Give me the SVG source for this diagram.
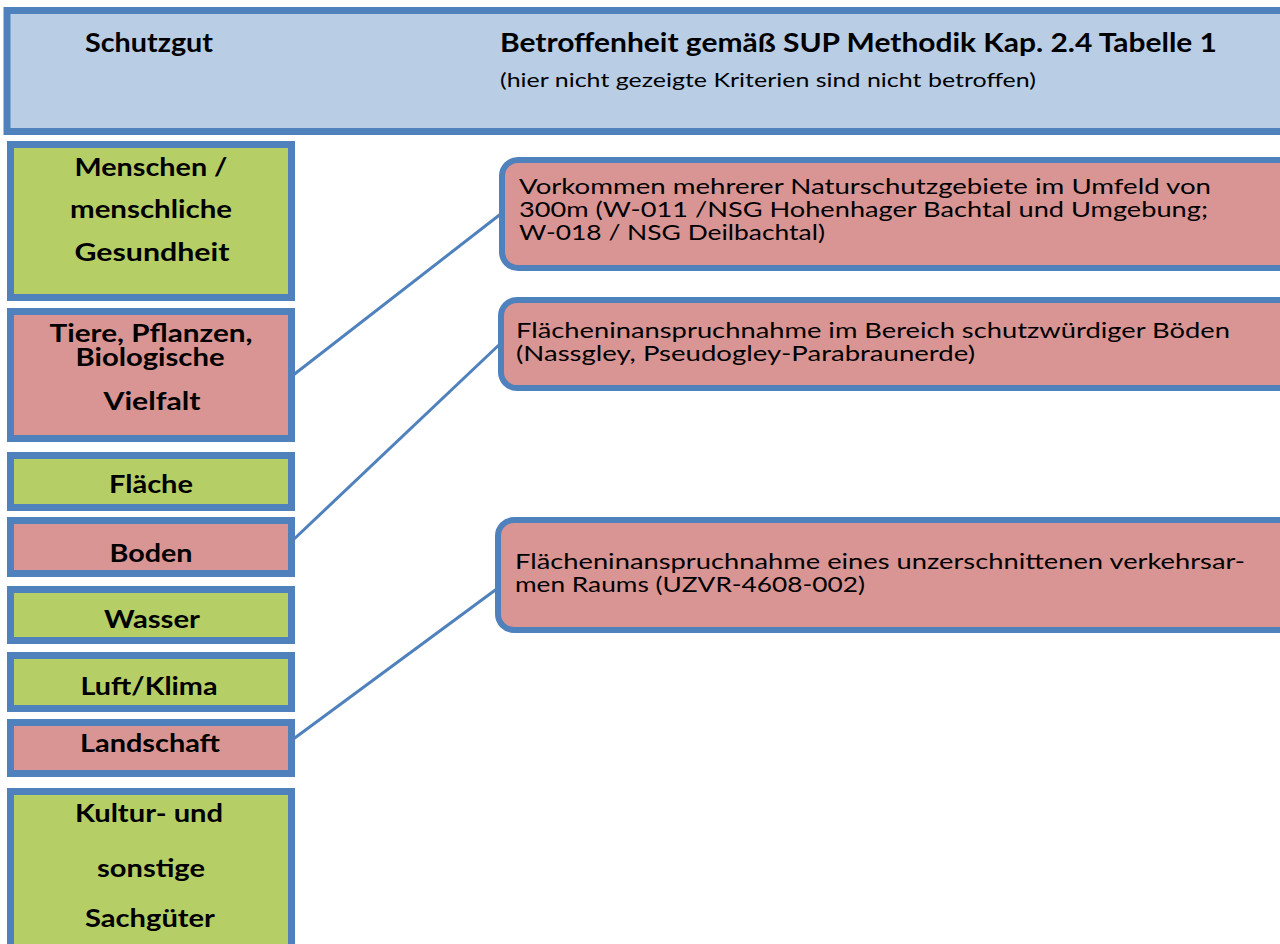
<svg xmlns="http://www.w3.org/2000/svg" width="1280" height="944" viewBox="0 0 1280 944">
  <style>
    .hdr { fill: #B9CDE5; stroke: #4F81BD; stroke-width: 7; }
    .ok { fill: #B5CF66; stroke: #4F81BD; stroke-width: 7; }
    .hit { fill: #D99594; stroke: #4F81BD; stroke-width: 7; }
    .crit { fill: #D99594; stroke: #4F81BD; stroke-width: 6; }
    .conn { stroke: #4F81BD; stroke-width: 3; fill: none; }
    text { font-family: Lato, "Open Sans", "Liberation Sans", sans-serif; fill: #000; }
    .lbl { font-weight: bold; font-size: 25px; text-anchor: middle; }
    .h1 { font-weight: bold; font-size: 26px; }
    .sub { font-size: 19px; }
    .t { font-size: 22px; }
  </style>
  <rect width="1280" height="944" fill="#FFFFFF"/>

  <!-- header band -->
  <g id="header">
    <rect class="hdr" x="7" y="10.5" width="1290" height="121"/>
    <text class="h1" x="85" y="52" textLength="128" lengthAdjust="spacingAndGlyphs">Schutzgut</text>
    <text class="h1" x="500" y="52" textLength="717" lengthAdjust="spacingAndGlyphs">Betroffenheit gemäß SUP Methodik Kap. 2.4 Tabelle 1</text>
    <text class="sub" x="500" y="87" textLength="536" lengthAdjust="spacingAndGlyphs">(hier nicht gezeigte Kriterien sind nicht betroffen)</text>
  </g>

  <!-- connectors -->
  <g id="connectors">
    <line class="conn" x1="292" y1="376" x2="502" y2="213"/>
    <line class="conn" x1="292" y1="541" x2="501" y2="343"/>
    <line class="conn" x1="292" y1="740" x2="498" y2="588"/>
  </g>

  <!-- Schutzgüter column -->
  <g id="menschen">
    <rect class="ok" x="10.5" y="144.5" width="281" height="153"/>
    <text class="lbl" x="151" y="176" textLength="153" lengthAdjust="spacingAndGlyphs">Menschen /</text>
    <text class="lbl" x="151" y="218" textLength="162" lengthAdjust="spacingAndGlyphs">menschliche</text>
    <text class="lbl" x="152" y="261" textLength="155" lengthAdjust="spacingAndGlyphs">Gesundheit</text>
  </g>
  <g id="tiere">
    <rect class="hit" x="10.5" y="311.5" width="281" height="127"/>
    <text class="lbl" x="151" y="342" textLength="203" lengthAdjust="spacingAndGlyphs">Tiere, Pflanzen,</text>
    <text class="lbl" x="150" y="366" textLength="149" lengthAdjust="spacingAndGlyphs">Biologische</text>
    <text class="lbl" x="152" y="410" textLength="97" lengthAdjust="spacingAndGlyphs">Vielfalt</text>
  </g>
  <g id="flaeche">
    <rect class="ok" x="10.5" y="455.5" width="281" height="52"/>
    <text class="lbl" x="151" y="493" textLength="84" lengthAdjust="spacingAndGlyphs">Fläche</text>
  </g>
  <g id="boden">
    <rect class="hit" x="10.5" y="520.5" width="281" height="53"/>
    <text class="lbl" x="151" y="562" textLength="83" lengthAdjust="spacingAndGlyphs">Boden</text>
  </g>
  <g id="wasser">
    <rect class="ok" x="10.5" y="589.5" width="281" height="51"/>
    <text class="lbl" x="152" y="628" textLength="96" lengthAdjust="spacingAndGlyphs">Wasser</text>
  </g>
  <g id="luft">
    <rect class="ok" x="10.5" y="655.5" width="281" height="53"/>
    <text class="lbl" x="149" y="695" textLength="137" lengthAdjust="spacingAndGlyphs">Luft/Klima</text>
  </g>
  <g id="landschaft">
    <rect class="hit" x="10.5" y="722.5" width="281" height="51"/>
    <text class="lbl" x="150" y="752" textLength="140" lengthAdjust="spacingAndGlyphs">Landschaft</text>
  </g>
  <g id="kultur">
    <rect class="ok" x="10.5" y="791.5" width="281" height="170"/>
    <text class="lbl" x="149" y="822" textLength="148" lengthAdjust="spacingAndGlyphs">Kultur- und</text>
    <text class="lbl" x="151" y="877" textLength="108" lengthAdjust="spacingAndGlyphs">sonstige</text>
    <text class="lbl" x="150" y="927" textLength="130" lengthAdjust="spacingAndGlyphs">Sachgüter</text>
  </g>

  <!-- affected criteria -->
  <g id="nsg">
    <rect class="crit" x="502" y="160" width="800" height="108" rx="16"/>
    <text class="t" x="519" y="194" textLength="692" lengthAdjust="spacingAndGlyphs">Vorkommen mehrerer Naturschutzgebiete im Umfeld von</text>
    <text class="t" x="519" y="217" textLength="689" lengthAdjust="spacingAndGlyphs">300m (W-011 /NSG Hohenhager Bachtal und  Umgebung;</text>
    <text class="t" x="519" y="240" textLength="306" lengthAdjust="spacingAndGlyphs">W-018 / NSG Deilbachtal)</text>
  </g>
  <g id="boeden">
    <rect class="crit" x="501" y="300" width="800" height="88" rx="16"/>
    <text class="t" x="516" y="338" textLength="714" lengthAdjust="spacingAndGlyphs">Flächeninanspruchnahme im Bereich schutzwürdiger Böden</text>
    <text class="t" x="516" y="361" textLength="459" lengthAdjust="spacingAndGlyphs">(Nassgley, Pseudogley-Parabraunerde)</text>
  </g>
  <g id="uzvr">
    <rect class="crit" x="498" y="520" width="800" height="110" rx="16"/>
    <text class="t" x="515" y="569" textLength="730" lengthAdjust="spacingAndGlyphs">Flächeninanspruchnahme eines unzerschnittenen verkehrsar-</text>
    <text class="t" x="515" y="592" textLength="350" lengthAdjust="spacingAndGlyphs">men Raums (UZVR-4608-002)</text>
  </g>
</svg>
